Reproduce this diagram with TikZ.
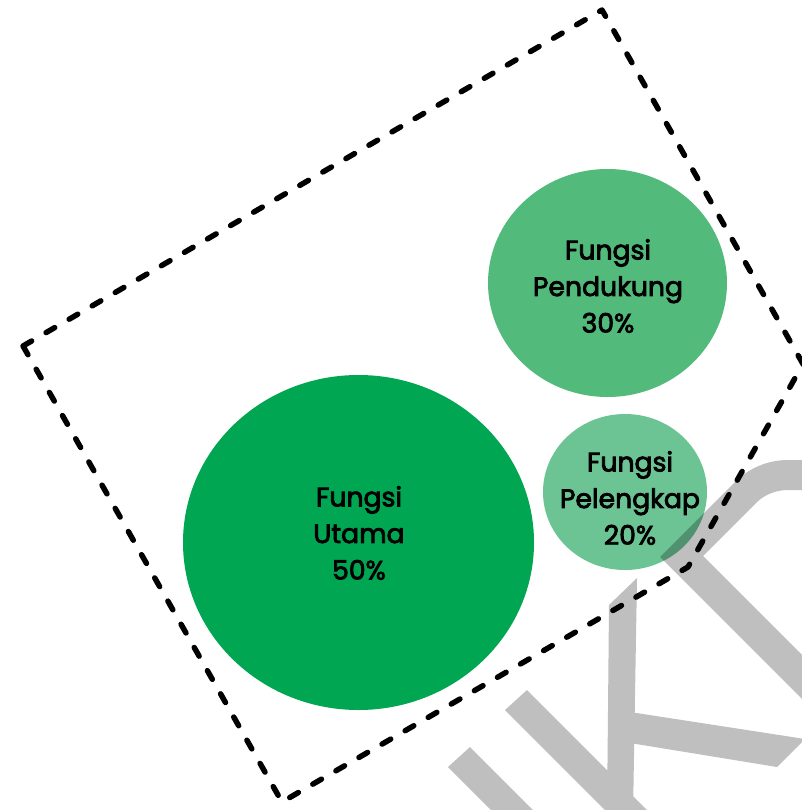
\documentclass[tikz,border=0pt]{standalone}
\usepackage{fontspec}
\newfontfamily\lblfont{Poppins}[FakeBold=3]
\usetikzlibrary{shapes.geometric}
\definecolor{gmain}{RGB}{0,166,81}
\definecolor{gsupp}{RGB}{82,187,123}
\definecolor{gcomp}{RGB}{108,196,149}
\tikzset{
  blob/.style={ellipse, inner sep=0pt, draw=none},
  lbl/.style={font=\lblfont\fontsize{20}{27.4}\selectfont, align=center, inner sep=0pt, text=black},
  frame/.style={line width=4.1pt, dash pattern=on 7.5pt off 12.5pt, line cap=round, line join=round},
  mark shade/.style={fill=black, fill opacity=0.25}
}
\begin{document}
\begin{tikzpicture}[x=0.75pt,y=-0.75pt]
\useasboundingbox (0,0) rectangle (802,810);
\clip (0,0) rectangle (802,810);
\fill[white] (0,0) rectangle (802,810);
% circles
\node[blob, fill=gmain, minimum width=263.25pt, minimum height=251.25pt] (utama) at (358.5,542.5) {};
\node[blob, fill=gsupp, minimum width=179.25pt, minimum height=171pt] (pendukung) at (607.5,283) {};
\node[blob, fill=gcomp, minimum width=123pt, minimum height=117pt] (pelengkap) at (625,492) {};
% labels
\node[lbl] (tutama) at (359,533) {Fungsi\\Utama\\50\%};
\node[lbl] (tpend) at (608,286) {Fungsi\\Pendukung\\30\%};
\node[lbl] (tpel) at (630,498) {Fungsi\\Pelengkap\\20\%};
% watermark strokes
\fill[mark shade]
  (448,767) -- (470,747) -- (540,817) -- (518,837) -- cycle
  (505,710) -- (527,690) -- (660,823) -- (638,843) -- cycle
  (609,605) -- (637,578) -- (633,815) -- (607,815) -- cycle
  (630,712) -- (805,739) -- (777,767) -- (630,743) -- cycle
  (660,557) -- (735,482) .. controls (749,468) and (768,460) .. (788,460) -- (812,460) -- (812,490) -- (788,490)
     .. controls (776,490) and (764.4,494.6) .. (756,503) -- (703,556) -- (812,665) -- (812,709) -- cycle;
% dashed frame
\coordinate (pA) at (23,346);
\coordinate (pB) at (602,10);
\coordinate (pC) at (803,364);
\coordinate (pD) at (688,567);
\coordinate (pE) at (282,802);
\draw[frame] (pA) -- (pB) -- (pC) -- (pD) -- (pE) -- cycle;
\end{tikzpicture}
\end{document}
